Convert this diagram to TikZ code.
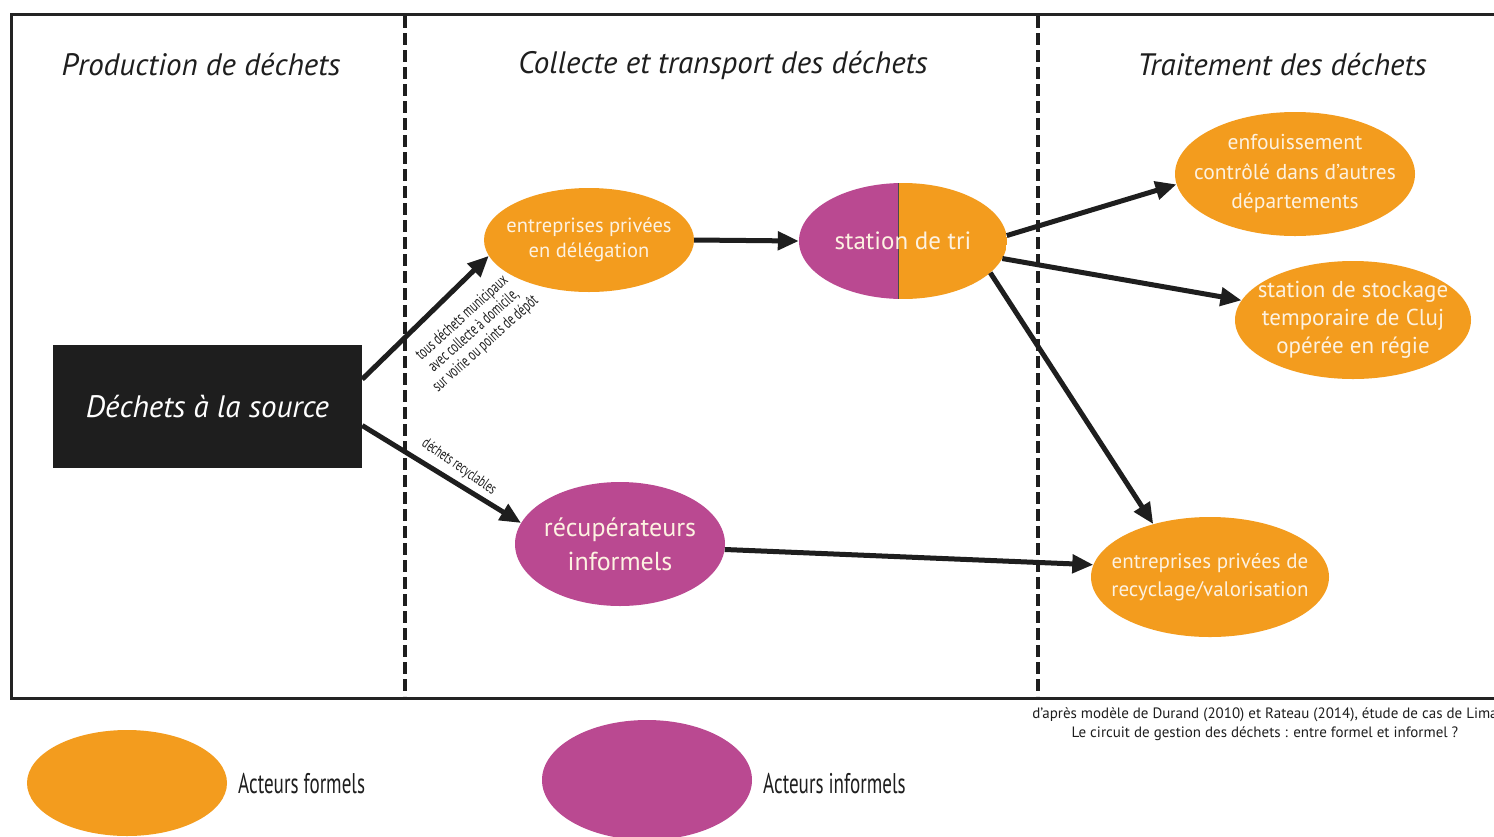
\documentclass[tikz,border=0pt]{standalone}
\usepackage{fontspec}
\setmainfont{PT Sans}
\newfontfamily\condfont[FakeStretch=0.67]{PT Sans}
\usetikzlibrary{shapes.geometric,arrows.meta}
\definecolor{orangeF}{RGB}{243,156,30}
\definecolor{magI}{RGB}{186,73,145}
\definecolor{txtc}{RGB}{253,242,225}
\definecolor{framec}{RGB}{35,35,35}
\definecolor{inkc}{RGB}{30,30,30}
\tikzset{
  actor/.style={ellipse, inner sep=0pt, draw=none},
  formal/.style={actor, fill=orangeF},
  informal/.style={actor, fill=magI},
  actortext/.style={align=center, text=txtc, inner sep=0pt},
  arr/.style={-{Triangle[length=21pt,width=18pt]}, line width=5pt, draw=inkc},
  title/.style={font=\fontsize{31}{36}\selectfont\itshape, text=inkc},
  sep/.style={line width=4pt, draw=inkc, dash pattern=on 12pt off 5pt},
  arrlabel/.style={align=center, text=inkc, inner sep=0pt, font=\condfont\fontsize{16.5}{17.5}\selectfont},
  legendtext/.style={anchor=west, text=inkc, inner sep=0pt, font=\condfont\fontsize{28.5}{32}\selectfont}
}
\begin{document}
\begin{tikzpicture}[x=1pt, y=-1pt]
\useasboundingbox (0,0) rectangle (1494,836);
\fill[white] (0,0) rectangle (1494,836);
% frame and separators
\draw[line width=3pt, draw=framec] (11,14) rectangle (1510,698);
\draw[sep] (405,16) -- (405,696);
\draw[sep] (1038,16) -- (1038,696);
% titles
\node[title] (t1) at (201,65) {Production de déchets};
\node[title] (t2) at (723,65) {Collecte et transport des déchets};
\node[title] (t3) at (1282,65) {Traitement des déchets};
% source
\node[rectangle, fill=inkc, minimum width=309pt, minimum height=123pt, inner sep=0pt,
      text=white, font=\fontsize{31}{36}\selectfont\itshape] (src) at (207.5,406.5) {Déchets à la source};
% actors
\node[formal, minimum width=210pt, minimum height=104pt,
      label={[actortext, font=\fontsize{20.5}{25}\selectfont]center:{entreprises privées\\en délégation}}] (ent) at (589,240) {};
\node[actor, minimum width=208pt, minimum height=116pt,
      path picture={
        \fill[magI] (path picture bounding box.north west) rectangle ([xshift=-5pt]path picture bounding box.south);
        \fill[orangeF] ([xshift=-5pt]path picture bounding box.north) rectangle (path picture bounding box.south east);
        \draw[line width=1pt, draw=inkc!80] ([xshift=-5pt]path picture bounding box.north) -- ([xshift=-5pt]path picture bounding box.south);
      },
      label={[actortext, font=\fontsize{25}{29}\selectfont]center:{station de tri}}] (tri) at (903,241) {};
\node[formal, minimum width=240pt, minimum height=124pt,
      label={[actortext, font=\fontsize{21.5}{29.5}\selectfont]center:{enfouissement\\contrôlé dans d’autres\\départements}}] (enf) at (1295,174) {};
\node[formal, minimum width=236pt, minimum height=118pt,
      label={[actortext, font=\fontsize{23}{28}\selectfont]center:{station de stockage\\temporaire de Cluj\\opérée en régie}}] (sto) at (1353,320) {};
\node[informal, minimum width=210pt, minimum height=124pt,
      label={[actortext, font=\fontsize{26}{34}\selectfont]center:{récupérateurs\\informels}}] (recup) at (620,544) {};
\node[formal, minimum width=238pt, minimum height=120pt,
      label={[actortext, font=\fontsize{21}{28}\selectfont]center:{entreprises privées de\\recyclage/valorisation}}] (rec) at (1210,577) {};
% arrows
\draw[arr] (src.10) -- (ent.189);
\draw[arr] (src.-7) -- (recup.168);
\draw[arr] (ent.east) -- (tri.west);
\draw[arr] (tri.3) -- (enf.185);
\draw[arr] (tri.-10) -- (sto.170);
\draw[arr] (tri.-20) -- (rec.137);
\draw[arr] (recup.-3) -- (rec.174);
% arrow labels
\node[arrlabel, rotate=42] (l1) at (474,331) {tous déchets municipaux\\avec collecte à domicile,\\sur voirie ou points de dépôt};
\node[arrlabel, rotate=-34.5, font=\condfont\fontsize{15.5}{17}\selectfont] (l2) at (459,467) {déchets recyclables};
% caption
\node[align=center, text=inkc, inner sep=0pt, font=\fontsize{15}{19}\selectfont] (cap) at (1265,724)
  {d’après modèle de Durand (2010) et Rateau (2014), étude de cas de Lima\\Le circuit de gestion des déchets : entre formel et informel ?};
% legend
\node[formal, minimum width=200pt, minimum height=106pt] (lg1) at (127,783) {};
\node[legendtext] (lt1) at (238,784) {Acteurs formels};
\node[informal, minimum width=210pt, minimum height=120pt] (lg2) at (647,780) {};
\node[legendtext] (lt2) at (763,784) {Acteurs informels};
\end{tikzpicture}
\end{document}
